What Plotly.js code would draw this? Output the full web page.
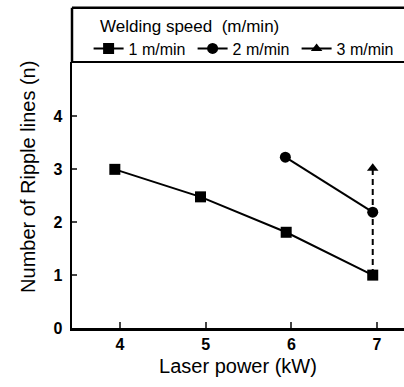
<!DOCTYPE html>
<html>
<head>
<meta charset="utf-8">
<script src="https://cdn.plot.ly/plotly-3.0.1.min.js"></script>
<style>html,body{margin:0;padding:0;background:#fff;overflow:hidden;}#chart{width:404px;height:387px;}</style>
</head>
<body>
<div id="chart"></div>
<script>
// Data
const power1 = [3.94, 4.94, 5.94, 6.95];
const ripple1 = [3.0, 2.48, 1.81, 1.0];
const power2 = [5.93, 6.95];
const ripple2 = [3.23, 2.19];
const power3 = [6.95, 6.95];
const ripple3 = [1.0, 3.02];
const seriesNames = ['1 m/min', '2 m/min', '3 m/min'];
const xTicks = [4, 5, 6, 7];
const yTicks = [0, 1, 2, 3, 4];
const xTitle = 'Laser power (kW)';
const yTitle = 'Number of Ripple lines (n)';
const legendTitle = 'Welding speed\u00a0\u00a0(m/min)';

const font = 'Liberation Sans, Arial, sans-serif';
const traces = [
  {x: power1, y: ripple1, name: seriesNames[0], mode: 'lines+markers', line: {color: '#000', width: 2},
   marker: {symbol: 'square', size: 11, color: '#000'}},
  {x: power2, y: ripple2, name: seriesNames[1], mode: 'lines+markers', line: {color: '#000', width: 2},
   marker: {symbol: 'circle', size: 11, color: '#000'}},
  {x: [null], y: [null], name: seriesNames[2], mode: 'lines+markers', line: {color: '#000', width: 2},
   marker: {symbol: 'triangle-up', size: 10, color: '#000'}},
  {x: power3, y: ripple3, showlegend: false, mode: 'lines', line: {color: '#000', width: 2, dash: '6px,4px'}},
  {x: [power3[1]], y: [ripple3[1]], showlegend: false, mode: 'markers',
   marker: {symbol: 'triangle-up', size: 10, color: '#000'}}
];
const layout = {
  width: 404, height: 387,
  margin: {l: 72, r: 0, t: 62, b: 59},
  paper_bgcolor: '#fff', plot_bgcolor: '#fff',
  font: {family: font, color: '#000'},
  showlegend: true,
  legend: {orientation: 'h', x: 0.05, xanchor: 'left', y: 1.1975, yanchor: 'top',
    title: {text: '\u00a0\u00a0' + legendTitle, side: 'top', font: {size: 17, family: font}},
    font: {size: 16, family: font}, bgcolor: 'rgba(0,0,0,0)', entrywidth: 59, tracegroupgap: 0},
  xaxis: {range: [3.44, 7.315], tickvals: xTicks, ticktext: xTicks.map(String), ticks: 'inside', ticklen: 6, tickwidth: 2,
    showline: true, linewidth: 2.5, linecolor: '#000', showgrid: false, zeroline: false,
    tickfont: {size: 16, family: font, weight: 'bold'},
    title: {text: xTitle, font: {size: 20, family: font}, standoff: 8}},
  yaxis: {range: [0, 5.03], tickvals: yTicks, ticktext: yTicks.map(String), ticks: 'inside', ticklen: 5, tickwidth: 2,
    showline: true, linewidth: 2.5, linecolor: '#000', showgrid: false, zeroline: false,
    tickfont: {size: 16, family: font, weight: 'bold'}, ticklabelstandoff: 4},
  annotations: [
    {text: yTitle, xref: 'paper', yref: 'paper', x: -0.1325, y: 0.568, xanchor: 'center', yanchor: 'middle',
     textangle: -90, showarrow: false, font: {size: 20, family: font, color: '#000'}}
  ],
  shapes: [
    {type: 'line', xref: 'paper', yref: 'paper', x0: 0, x1: 1, y0: 1, y1: 1, line: {color: '#000', width: 2}},
    {type: 'line', xref: 'paper', yref: 'paper', x0: 0, x1: 1, y0: 1.2038, y1: 1.2038, line: {color: '#000', width: 2.5}},
    {type: 'line', xref: 'paper', yref: 'paper', x0: 0, x1: 0, y0: 1, y1: 1.2038, line: {color: '#000', width: 2.5}}
  ]
};
Plotly.newPlot('chart', traces, layout, {displayModeBar: false, staticPlot: true});
</script>
</body>
</html>
